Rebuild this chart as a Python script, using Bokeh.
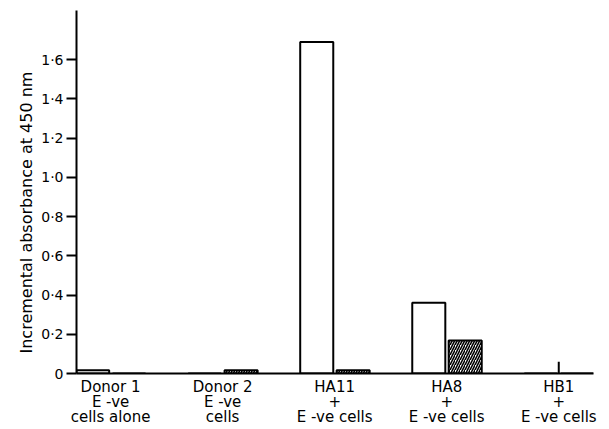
from bokeh.plotting import figure
from bokeh.models import FixedTicker, Range1d, ColumnDataSource, Title
from bokeh.embed import file_html
from bokeh.resources import INLINE

groups = ["Donor 1\nE -ve\ncells alone", "Donor 2\nE -ve\ncells", "HA11\n+\nE -ve cells",
          "HA8\n+\nE -ve cells", "HB1\n+\nE -ve cells"]
open_vals = [0.016, 0.0, 1.69, 0.36, 0.0]
hatched_vals = [0.0, 0.016, 0.016, 0.168, 0.0]
hb1_marker = 0.06
y_ticks = [0, 0.2, 0.4, 0.6, 0.8, 1.0, 1.2, 1.4, 1.6]
y_tick_labels = ["0", "0·2", "0·4", "0·6", "0·8", "1·0", "1·2", "1·4", "1·6"]
y_title = "Incremental absorbance at 450 nm"

FONT = "DejaVu Sans"
idx = list(range(len(groups)))

p = figure(width=601, height=429, output_backend="svg", toolbar_location=None,
           x_range=Range1d(-0.304, 4.31), y_range=Range1d(0, 1.85),
           min_border_left=76, min_border_top=10, min_border_right=8, min_border_bottom=52)
p.grid.visible = False
p.outline_line_color = None
p.background_fill_color = "white"

src = ColumnDataSource(dict(
    xo=[i - 0.16 for i in idx], xh=[i + 0.165 for i in idx],
    open=open_vals, hat=hatched_vals))

p.vbar(x="xo", top="open", bottom=0, width=0.295, source=src,
       fill_color="white", line_color="black", line_width=2)
p.vbar(x="xh", top="hat", bottom=0, width=0.295, source=src,
       fill_color="white", line_color="black", line_width=2,
       hatch_pattern="/", hatch_color="black", hatch_weight=1.6, hatch_scale=5)
p.segment(x0=[idx[4]], y0=[0], x1=[idx[4]], y1=[hb1_marker], line_color="black", line_width=2)

# y axis
ya = p.yaxis[0]
ya.ticker = FixedTicker(ticks=y_ticks)
ya.major_label_overrides = {t: l for t, l in zip(y_ticks, y_tick_labels)}
ya.axis_line_width = 2
ya.major_tick_line_width = 2
ya.major_tick_out = 10
ya.major_tick_in = 0
ya.minor_tick_out = 0
ya.minor_tick_in = 0
ya.major_label_text_font = FONT
ya.major_label_text_font_size = "14px"
ya.major_label_text_color = "black"
ya.major_label_standoff = 3

# y axis title as a side title, starting a little above the frame bottom
p.add_layout(Title(text=y_title, align="left", offset=20, standoff=6,
                   text_font=FONT, text_font_size="16px", text_font_style="normal",
                   text_color="black"), "left")

# x axis
xa = p.xaxis[0]
xa.ticker = FixedTicker(ticks=idx)
xa.major_label_overrides = {i: g for i, g in zip(idx, groups)}
xa.axis_line_width = 2
xa.major_tick_out = 0
xa.major_tick_in = 0
xa.minor_tick_out = 0
xa.minor_tick_in = 0
xa.major_label_text_font = FONT
xa.major_label_text_font_size = "15px"
xa.major_label_text_color = "black"
xa.major_label_standoff = 4
xa.major_label_text_line_height = 0.86

open("out.html", "w").write(file_html(p, INLINE))
